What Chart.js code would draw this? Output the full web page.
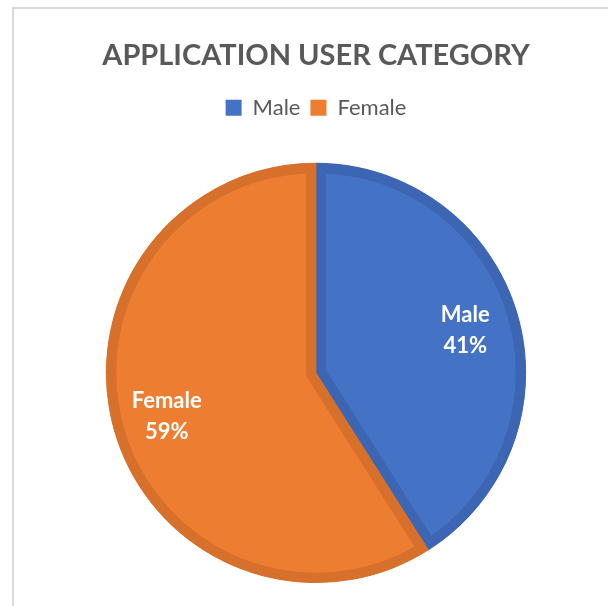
<!DOCTYPE html>
<html>
<head>
<meta charset="utf-8">
<script src="https://cdn.jsdelivr.net/npm/chart.js@4.4.1/dist/chart.umd.min.js"></script>
<style>
  html, body { margin: 0; padding: 0; background: #fff; }
  #wrap { width: 608px; height: 606px; }
</style>
</head>
<body>
<div id="wrap"><canvas id="pieChart" width="608" height="606"></canvas></div>
<script>
var categories = ["Male", "Female"];
var shares = [41, 59];
var fillColors = ["#4472C4", "#ED7D31"];
var edgeColors = ["#3C66B3", "#D6702B"];

// light frame along the left and top edge
var framePlugin = {
  id: "frame",
  beforeDraw: function (chart) {
    var ctx = chart.ctx;
    ctx.save();
    ctx.strokeStyle = "#d9d9d9";
    ctx.lineWidth = 2;
    ctx.beginPath();
    ctx.moveTo(13, chart.height);
    ctx.lineTo(13, 8);
    ctx.lineTo(chart.width, 8);
    ctx.stroke();
    ctx.restore();
  }
};

// extra room between the legend and the pie
var legendGap = {
  id: "legendGap",
  beforeInit: function (chart) {
    var fit = chart.legend.fit;
    chart.legend.fit = function () {
      fit.bind(chart.legend)();
      this.height += 34;
    };
  }
};

// slice labels: category name and percentage
var sliceLabels = {
  id: "sliceLabels",
  afterDatasetsDraw: function (chart) {
    var ctx = chart.ctx;
    var meta = chart.getDatasetMeta(0);
    ctx.save();
    ctx.fillStyle = "#ffffff";
    ctx.font = "bold 22px Lato";
    ctx.textAlign = "center";
    ctx.textBaseline = "middle";
    meta.data.forEach(function (arc, i) {
      var mid = (arc.startAngle + arc.endAngle) / 2;
      var r = arc.outerRadius * 0.74;
      var x = arc.x + Math.cos(mid) * r;
      var y = arc.y + Math.sin(mid) * r;
      ctx.fillText(categories[i], x, y - 15);
      ctx.fillText(shares[i] + "%", x, y + 16);
    });
    ctx.restore();
  }
};

var ctxPie = document.getElementById("pieChart").getContext("2d");
var pieChart = new Chart(ctxPie, {
  type: "pie",
  data: {
    labels: categories,
    datasets: [
      {
        data: shares,
        backgroundColor: fillColors,
        borderColor: edgeColors,
        borderWidth: 10,
        borderAlign: "inner",
      },
    ],
  },
  options: {
    responsive: false,
    animation: false,
    layout: {
      padding: { left: 24, right: 0, bottom: 23 },
    },
    plugins: {
      title: {
        display: true,
        text: "APPLICATION USER CATEGORY",
        color: "#595959",
        font: { family: "Lato", size: 29, weight: "bold" },
        padding: { top: 38, bottom: 14 },
      },
      legend: {
        position: "top",
        labels: {
          color: "#595959",
          font: { family: "Lato", size: 22 },
          boxWidth: 16,
          boxHeight: 16,
          padding: 10,
          generateLabels: function (chart) {
            return categories.map(function (c, i) {
              return {
                text: c,
                fillStyle: fillColors[i],
                strokeStyle: fillColors[i],
                lineWidth: 0,
                fontColor: "#595959",
                index: i,
              };
            });
          },
        },
      },
      tooltip: { enabled: false },
    },
  },
  plugins: [framePlugin, legendGap, sliceLabels],
});
</script>
</body>
</html>
